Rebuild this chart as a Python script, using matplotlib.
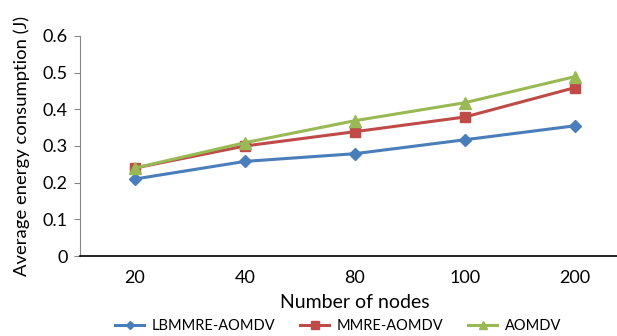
import matplotlib
matplotlib.use("Agg")
import matplotlib.pyplot as plt
import numpy as np

plt.rcParams.update({
    "font.family": ["Lato", "DejaVu Sans"],
    "font.size": 13,
})

nodes = ["20", "40", "80", "100", "200"]
lbmmre = [0.21, 0.258, 0.279, 0.317, 0.355]
mmre = [0.24, 0.30, 0.339, 0.379, 0.459]
aomdv = [0.24, 0.309, 0.369, 0.418, 0.489]

BLUE, RED, GREEN = "#4a7ebb", "#be4b48", "#98b954"

fig = plt.figure(figsize=(6.17, 3.36), dpi=100)
ax = fig.add_axes([0.1297, 0.238, 0.891, 0.655])

x = np.arange(len(nodes))
ax.plot(x, lbmmre, color=BLUE, lw=2.2, marker="D", ms=6, label="LBMMRE-AOMDV")
ax.plot(x, mmre, color=RED, lw=2.2, marker="s", ms=7, label="MMRE-AOMDV")
ax.plot(x, aomdv, color=GREEN, lw=2.2, marker="^", ms=8, label="AOMDV")

ax.set_xlim(-0.5, 4.5)
ax.set_ylim(0, 0.6)
ax.set_yticks(np.arange(0, 0.61, 0.1))
ax.set_yticklabels(["0", "0.1", "0.2", "0.3", "0.4", "0.5", "0.6"])
ax.set_xticks(x)
ax.set_xticklabels(nodes)
ax.tick_params(axis="x", length=0, pad=10, labelsize=13)
ax.tick_params(axis="y", length=4, direction="out", color="#868686", labelsize=13, pad=5)

for s in ["top", "right"]:
    ax.spines[s].set_visible(False)
ax.spines["left"].set_color("#868686")
ax.spines["bottom"].set_color("black")
ax.spines["bottom"].set_linewidth(1.2)

ax.set_xlabel("Number of nodes", fontsize=14, labelpad=6)
ax.set_ylabel("Average energy consumption (J)", fontsize=13.3, labelpad=9)

fig.legend(loc="center", bbox_to_anchor=(0.548, 0.03), ncol=3, frameon=False,
           fontsize=10.5, handlelength=2.0, handletextpad=0.5, columnspacing=1.7,
           markerscale=0.75)

fig.savefig("out.png", dpi=100)
